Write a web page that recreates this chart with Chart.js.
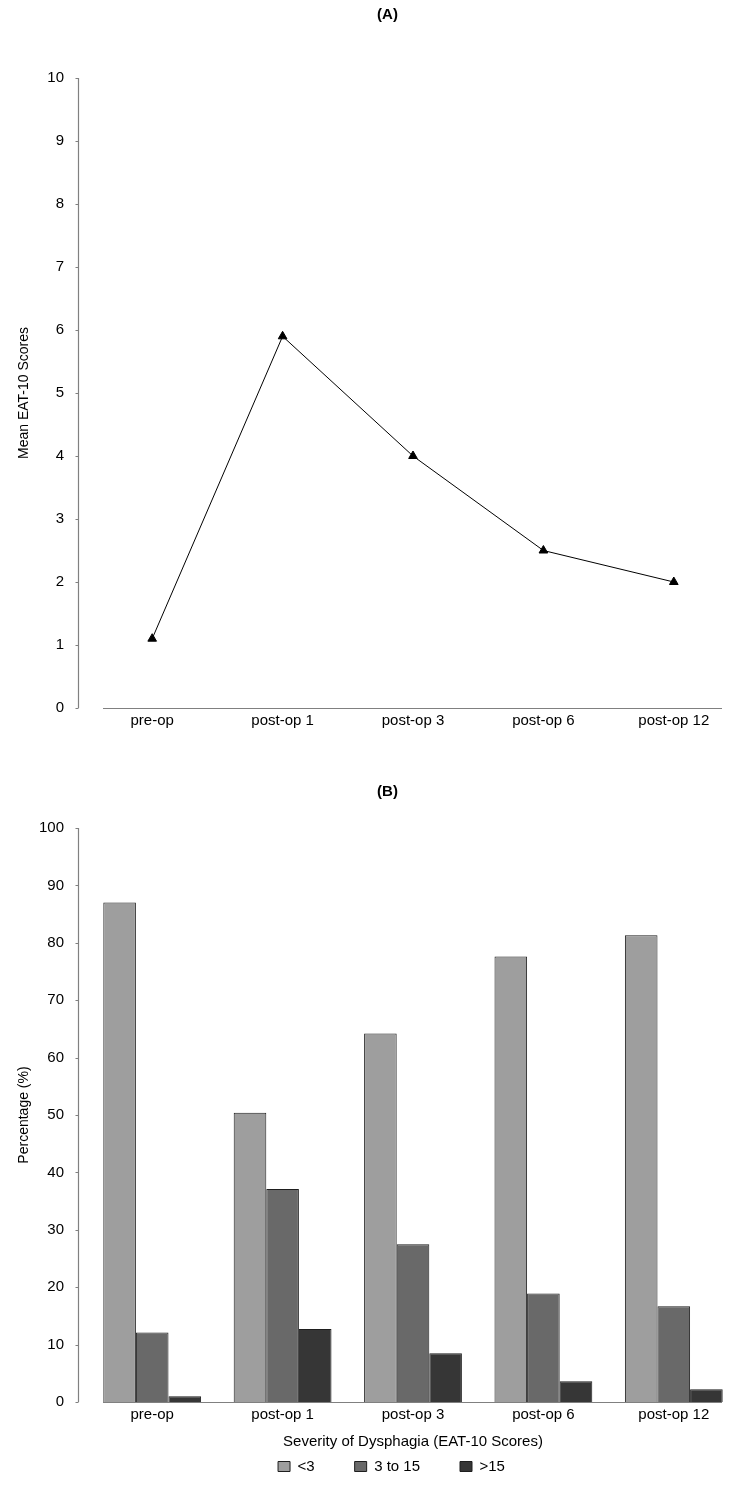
<!DOCTYPE html>
<html>
<head>
<meta charset="utf-8">
<script src="https://cdn.jsdelivr.net/npm/chart.js@4.4.0/dist/chart.umd.min.js"></script>
<style>
  html, body { margin: 0; background: #fff; overflow: hidden; }
  .box { position: relative; width: 750px; }
</style>
</head>
<body>
<div class="box" style="height:740px"><canvas id="chartA"></canvas></div>
<div class="box" style="height:776px"><canvas id="chartB"></canvas></div>
<script>
// data
const timepoints = ['pre-op', 'post-op 1', 'post-op 3', 'post-op 6', 'post-op 12'];
const meanScores = [1.1, 5.9, 4.0, 2.5, 2.0];

const severityLabels = ['<3', '3 to 15', '>15'];
const pctUnder3 = [87.0, 50.4, 64.2, 77.6, 81.3];
const pct3to15 = [12.1, 37.1, 27.5, 18.9, 16.7];
const pctOver15 = [1.0, 12.7, 8.5, 3.6, 2.2];

const yMaxA = 10, yStepA = 1;
const yMaxB = 100, yStepB = 10;

const FONT = "'Liberation Sans', Arial, sans-serif";
const AXIS = '#808080';

// y axis sits a little left of the plot, x axis spans only the data
const axisLines = {
  id: 'axisLines',
  afterDraw(chart) {
    const {ctx, chartArea, scales: {y}} = chart;
    const ax = Math.round(chartArea.left - 9) + 0.5;
    const bottom = Math.round(chartArea.bottom) + 0.5;
    ctx.save();
    ctx.strokeStyle = AXIS;
    ctx.lineWidth = 1.2;
    ctx.beginPath();
    ctx.moveTo(ax, y.getPixelForValue(y.max));
    ctx.lineTo(ax, y.getPixelForValue(0));
    y.ticks.forEach(t => {
      const py = Math.round(y.getPixelForValue(t.value)) + 0.5;
      ctx.moveTo(ax - 3, py);
      ctx.lineTo(ax, py);
    });
    ctx.moveTo(chartArea.left + 16, bottom);
    ctx.lineTo(chartArea.right - 17, bottom);
    ctx.stroke();
    ctx.restore();
  }
};

// move title a bit right, pull legend up under the axis title
const nudge = {
  id: 'nudge',
  afterLayout(chart) {
    const t = chart.titleBlock;
    if (t) { t.left += 18; t.right += 18; }
    const lg = chart.legend;
    if (lg && lg.options.display) {
      lg.top -= 32; lg.bottom -= 32;
      lg.left += 22; lg.right += 22;
    }
  }
};

function yScale(max, step, title) {
  return {
    min: 0,
    max: max,
    ticks: { stepSize: step, color: '#000', font: { family: FONT, size: 15 }, padding: 23 },
    grid: { display: false, drawTicks: false },
    border: { display: false },
    title: { display: true, text: title, color: '#000', font: { family: FONT, size: 14 }, padding: { top: 16, bottom: 0 } },
    afterFit(scale) { scale.width = 87; }
  };
}

new Chart(document.getElementById('chartA'), {
  type: 'line',
  data: {
    labels: timepoints,
    datasets: [{
      data: meanScores,
      borderColor: '#000',
      borderWidth: 1,
      pointStyle: 'triangle',
      pointRadius: 5,
      pointBackgroundColor: '#000',
      pointBorderColor: '#000',
      tension: 0
    }]
  },
  options: {
    responsive: true,
    maintainAspectRatio: false,
    animation: false,
    layout: { padding: { left: 0, right: 11, top: 0, bottom: 5 } },
    plugins: {
      legend: { display: false },
      tooltip: { enabled: false },
      title: {
        display: true, text: '(A)', color: '#000',
        font: { family: FONT, size: 15, weight: 'bold' },
        padding: { top: 6, bottom: 54 }
      }
    },
    scales: {
      x: {
        offset: true,
        grid: { display: false, drawTicks: false },
        border: { display: false },
        ticks: { color: '#000', font: { family: FONT, size: 15 }, padding: 4, maxRotation: 0, autoSkip: false }
      },
      y: yScale(yMaxA, yStepA, 'Mean EAT-10 Scores')
    }
  },
  plugins: [axisLines, nudge]
});

new Chart(document.getElementById('chartB'), {
  type: 'bar',
  data: {
    labels: timepoints,
    datasets: [
      { label: severityLabels[0], data: pctUnder3, backgroundColor: '#9e9e9e', borderColor: '#1e1e1e', borderWidth: 1 },
      { label: severityLabels[1], data: pct3to15, backgroundColor: '#696969', borderColor: '#1e1e1e', borderWidth: 1 },
      { label: severityLabels[2], data: pctOver15, backgroundColor: '#363636', borderColor: '#1e1e1e', borderWidth: 1 }
    ]
  },
  options: {
    responsive: true,
    maintainAspectRatio: false,
    animation: false,
    categoryPercentage: 0.75,
    barPercentage: 1.0,
    layout: { padding: { left: 0, right: 11, top: 0, bottom: 0 } },
    plugins: {
      tooltip: { enabled: false },
      title: {
        display: true, text: '(B)', color: '#000',
        font: { family: FONT, size: 15, weight: 'bold' },
        padding: { top: 43, bottom: 27 }
      },
      legend: {
        position: 'bottom',
        labels: {
          boxWidth: 12, boxHeight: 10, padding: 40, color: '#000',
          font: { family: FONT, size: 15 }
        }
      }
    },
    scales: {
      x: {
        grid: { display: false, drawTicks: false },
        border: { display: false },
        ticks: { color: '#000', font: { family: FONT, size: 15 }, padding: 4, maxRotation: 0, autoSkip: false },
        title: {
          display: true, text: 'Severity of Dysphagia (EAT-10 Scores)', color: '#000',
          font: { family: FONT, size: 15 }, padding: { top: 5, bottom: 0 }
        }
      },
      y: yScale(yMaxB, yStepB, 'Percentage (%)')
    }
  },
  plugins: [axisLines, nudge]
});
</script>
</body>
</html>
